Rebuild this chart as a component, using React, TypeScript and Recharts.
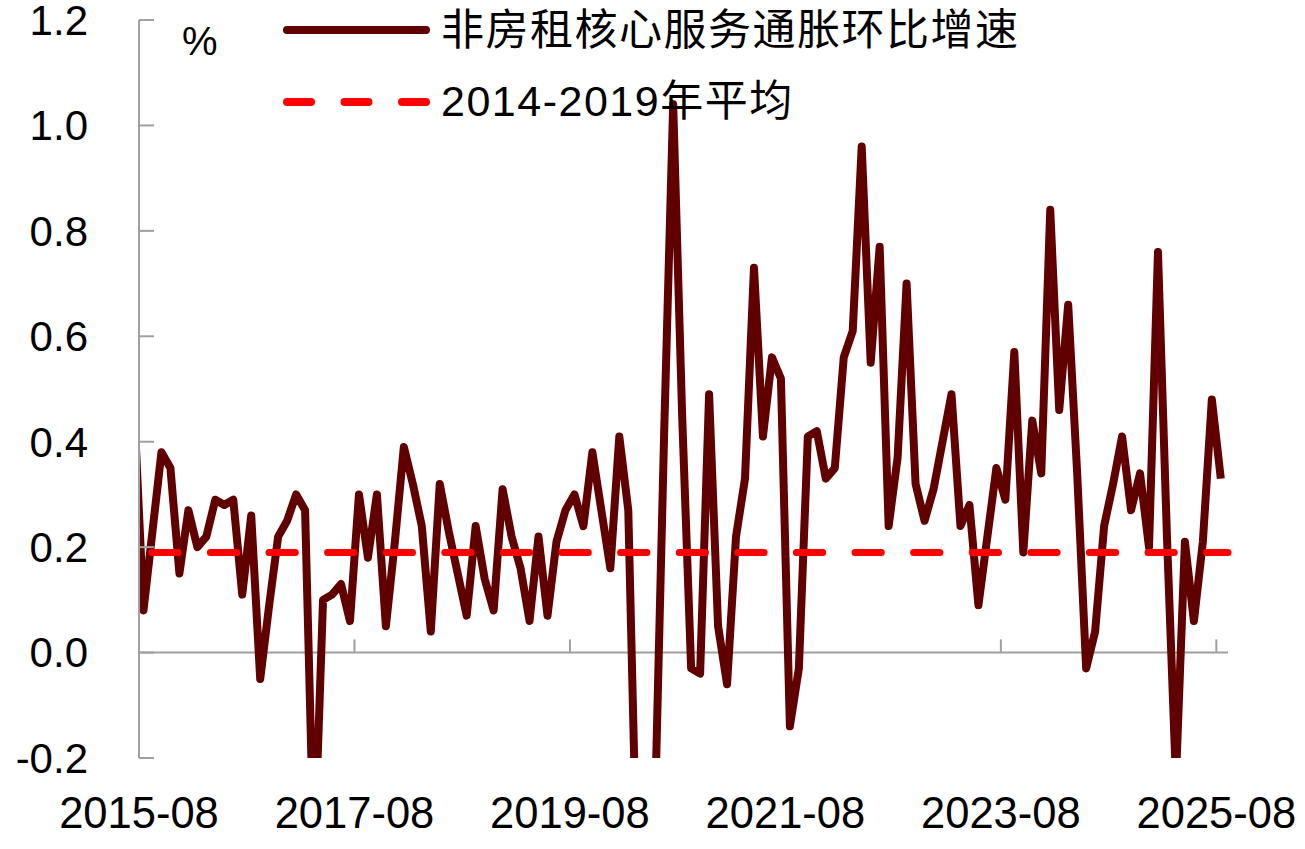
import { LineChart, Line, XAxis, YAxis, ReferenceLine } from 'recharts';

// Monthly values, first entry is 2015-07 (sits just left of the axis and gets clipped)
const FIRST_YEAR = 2015;
const FIRST_MONTH = 7;

const coreServicesExRent: number[] = [
  0.45, 0.08, 0.23, 0.38, 0.35, 0.15, 0.27, 0.2, 0.22, 0.29, 0.28, 0.29,
  0.11, 0.26, -0.05, 0.09, 0.22, 0.25, 0.3, 0.27, -0.4, 0.1, 0.11, 0.13,
  0.06, 0.3, 0.18, 0.3, 0.05, 0.21, 0.39, 0.32, 0.24, 0.04, 0.32, 0.23,
  0.15, 0.07, 0.24, 0.14, 0.08, 0.31, 0.22, 0.16, 0.06, 0.22, 0.07, 0.21,
  0.27, 0.3, 0.24, 0.38, 0.27, 0.16, 0.41, 0.27, -0.45, -0.85, -0.28, 0.42,
  1.04, 0.45, -0.03, -0.04, 0.49, 0.05, -0.06, 0.22, 0.33, 0.73, 0.41, 0.56,
  0.52, -0.14, -0.03, 0.41, 0.42, 0.33, 0.35, 0.56, 0.61, 0.96, 0.55, 0.77,
  0.24, 0.37, 0.7, 0.32, 0.25, 0.31, 0.4, 0.49, 0.24, 0.28, 0.09, 0.22,
  0.35, 0.29, 0.57, 0.19, 0.44, 0.34, 0.84, 0.46, 0.66, 0.34, -0.03, 0.04,
  0.24, 0.32, 0.41, 0.27, 0.34, 0.2, 0.76, 0.22, -0.24, 0.21, 0.06, 0.21,
  0.48, 0.33,
];

const avg2014to2019 = 0.19;

const seriesName = '非房租核心服务通胀环比增速';
const avgName = '2014-2019年平均';

const xTickLabels = ['2015-08', '2017-08', '2019-08', '2021-08', '2023-08', '2025-08'];
const yTicks = [-0.2, 0, 0.2, 0.4, 0.6, 0.8, 1.0, 1.2];

const months = coreServicesExRent.map((_, i) => {
  const n = FIRST_MONTH - 1 + i;
  const y = FIRST_YEAR + Math.floor(n / 12);
  const m = (n % 12) + 1;
  return `${y}-${String(m).padStart(2, '0')}`;
});

// months since 2015-08 (start of month)
const monthPos = (label: string) => {
  const [y, m] = label.split('-').map(Number);
  return (y - 2015) * 12 + (m - 8);
};

// points sit mid-month
const chartData = months.map((m, i) => ({
  month: m,
  t: monthPos(m) + 0.5,
  value: coreServicesExRent[i],
}));

const xTicks = xTickLabels.map(monthPos);

const LINE_COLOR = '#600000';
const AVG_COLOR = '#ff0000';
const AXIS_COLOR = '#a0a0a0';
const FONT = "'Liberation Sans', Arial, 'Noto Sans CJK SC', sans-serif";

function LegendBox() {
  return (
    <div style={{ position: 'absolute', left: 0, top: 0, width: 1305, height: 130, fontFamily: FONT, color: '#000', pointerEvents: 'none' }}>
      <div style={{ position: 'absolute', left: 182, top: 21, fontSize: 40, lineHeight: 1 }}>%</div>
      <svg style={{ position: 'absolute', left: 283, top: 25 }} width={147} height={10}>
        <line x1={4} x2={143} y1={5} y2={5} stroke={LINE_COLOR} strokeWidth={8} strokeLinecap="round" />
      </svg>
      <div style={{ position: 'absolute', left: 441, top: 9, fontSize: 43, lineHeight: 1, letterSpacing: 1.5 }}>
        {seriesName}
      </div>
      <svg style={{ position: 'absolute', left: 283, top: 97 }} width={147} height={10}>
        <line
          x1={4}
          x2={143}
          y1={5}
          y2={5}
          stroke={AVG_COLOR}
          strokeWidth={8}
          strokeLinecap="round"
          strokeDasharray="24 33.5"
        />
      </svg>
      <div style={{ position: 'absolute', left: 441, top: 80, fontSize: 43, lineHeight: 1, letterSpacing: 1.5 }}>
        {avgName}
      </div>
    </div>
  );
}

export default function App() {
  return (
    <div style={{ position: 'absolute', left: 0, top: 0, width: 1305, height: 849, background: '#fff', fontFamily: FONT }}>
      <LineChart width={1305} height={849} data={chartData} margin={{ top: 20, right: 77, left: 0, bottom: 0 }}>
        <XAxis
          dataKey="t"
          type="number"
          domain={[0, 121.3]}
          allowDataOverflow
          ticks={xTicks}
          interval={0}
          tickFormatter={(v: number) => xTickLabels[xTicks.indexOf(v)] ?? ''}
          axisLine={false}
          tickLine={false}
          tickSize={0}
          tickMargin={39}
          height={91}
          tick={{ fill: '#000', fontSize: 43.5 }}
        />
        <YAxis
          type="number"
          domain={[-0.2, 1.2]}
          allowDataOverflow
          ticks={yTicks}
          interval={0}
          tickFormatter={(v: number) => v.toFixed(1)}
          width={139}
          axisLine={{ stroke: AXIS_COLOR, strokeWidth: 2 }}
          tickLine={{ stroke: AXIS_COLOR, strokeWidth: 2 }}
          tickSize={-15}
          tickMargin={66}
          tick={{ fill: '#000', fontSize: 42 }}
        />
        <ReferenceLine y={0} stroke={AXIS_COLOR} strokeWidth={2} />
        {xTicks.map((x) => (
          <ReferenceLine
            key={x}
            segment={[
              { x, y: 0 },
              { x, y: 0.025 },
            ]}
            stroke={AXIS_COLOR}
            strokeWidth={2}
          />
        ))}
        <Line
          type="linear"
          dataKey="value"
          name={seriesName}
          stroke={LINE_COLOR}
          strokeWidth={8}
          strokeLinejoin="round"
          dot={false}
          activeDot={false}
          isAnimationActive={false}
        />
        <ReferenceLine
          y={avg2014to2019}
          stroke={AVG_COLOR}
          strokeWidth={7}
          strokeLinecap="round"
          strokeDasharray="26.3 32.3"
          strokeDashoffset={45.8}
        />
      </LineChart>
      <LegendBox />
    </div>
  );
}
